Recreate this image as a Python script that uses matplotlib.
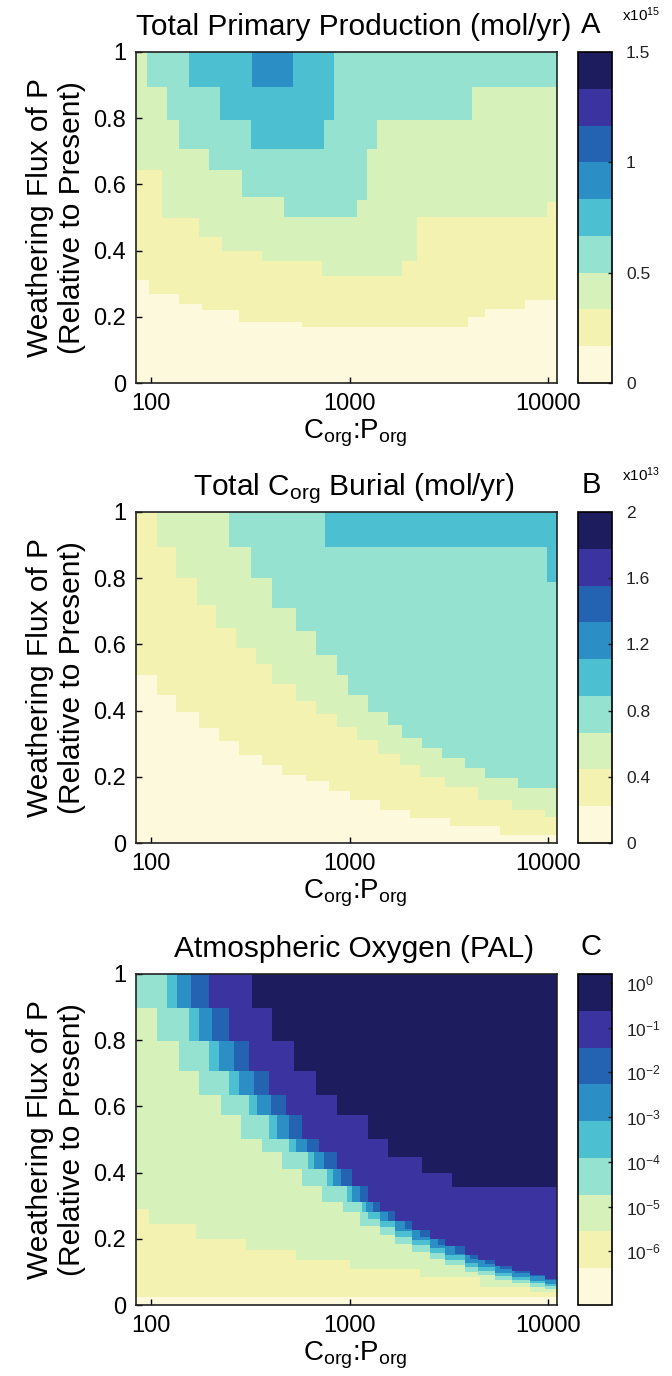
import numpy as np
import matplotlib
matplotlib.use("Agg")
import matplotlib.pyplot as plt
from matplotlib.colors import ListedColormap, Normalize, LogNorm
import matplotlib.cm as cm

plt.rcParams['font.family'] = ['Liberation Sans', 'DejaVu Sans']
plt.rcParams['mathtext.fontset'] = 'custom'
plt.rcParams['mathtext.rm'] = 'Liberation Sans'
plt.rcParams['mathtext.it'] = 'Liberation Sans:italic'

# 9 colour classes, low -> high
level_colors = ['#fdf9dc', '#f4f2b0', '#d6f2ba', '#95e2d0', '#4cbfd0',
                '#2b8ec4', '#2462b2', '#3a33a0', '#1c1c5e']

cp_lim = (84, 11100)
cp_ticks = [100, 1000, 10000]
wf_ticks = [0, 0.2, 0.4, 0.6, 0.8, 1]

# each list: (C:P where the step starts, weathering flux above which that level is reached)
# A - total primary production
pp_lvl1 = [(84, 0.31), (98, 0.27), (138, 0.24), (181, 0.22), (278, 0.185), (579, 0.17),
           (3945, 0.20), (4806, 0.225), (7653, 0.25)]
pp_lvl2 = [(84, 0.643), (114, 0.50), (175, 0.44), (228, 0.40), (364, 0.37), (730, 0.322),
           (1831, 0.37), (2180, 0.502), (9884, 0.547)]
pp_lvl3 = [(84, 1.0), (95.5, 0.895), (120, 0.795), (138.5, 0.708), (196, 0.643), (288, 0.563),
           (470, 0.502), (1085, 0.553), (1219, 0.708), (1369, 0.795), (4133, 0.895)]
pp_lvl4 = [(84, 1.0), (155.5, 0.895), (223, 0.795), (320, 0.708), (748, 0.795), (840, 1.0)]
pp_lvl5 = [(84, 1.0), (324, 0.895), (521, 1.0)]

# B - total Corg burial
cb_lvl1 = [(84, 0.507), (107, 0.447), (134, 0.397), (175, 0.347), (220, 0.307), (278, 0.266),
           (364, 0.236), (459, 0.206), (607, 0.186), (792, 0.156), (1000, 0.13), (1418, 0.10),
           (2009, 0.075), (3200, 0.05), (5723, 0.025)]
cb_lvl2 = [(84, 1.0), (107, 0.895), (134, 0.80), (171, 0.72), (213, 0.65), (269, 0.59),
           (339, 0.54), (409, 0.48), (540, 0.43), (681, 0.39), (860, 0.35), (1085, 0.31),
           (1385, 0.27), (1788, 0.235), (2258, 0.20), (3018, 0.17), (4432, 0.13),
           (6579, 0.10), (9656, 0.08)]
cb_lvl3 = [(84, 1.0), (248, 0.895), (320, 0.80), (409, 0.709), (540, 0.64), (681, 0.568),
           (860, 0.507), (977, 0.447), (1233, 0.397), (1556, 0.357), (1831, 0.316),
           (2310, 0.287), (2914, 0.256), (3808, 0.226), (4806, 0.196), (7057, 0.166)]
cb_lvl4 = [(84, 1.0), (756, 0.895), (9884, 0.79)]

# C - atmospheric oxygen
ox_lvl1 = [(84, 0.025)]
ox_lvl2 = [(84, 0.29), (98, 0.245), (169, 0.20), (302, 0.165), (540, 0.135), (1000, 0.11),
           (2258, 0.085), (4536, 0.055), (8126, 0.04)]
ox_lvl3 = [(84, 0.896), (107, 0.798), (138.5, 0.707), (175, 0.633), (226, 0.573), (285, 0.502),
           (364, 0.462), (459, 0.411), (579, 0.361), (730, 0.310), (922, 0.280), (1123, 0.24),
           (1418, 0.21), (1688, 0.185), (2057, 0.16), (2535, 0.14), (3018, 0.12),
           (3808, 0.10), (4432, 0.09), (5400, 0.075), (6579, 0.065), (8126, 0.055),
           (9656, 0.048)]
ox_lvl4 = [(84, 1.0), (120, 0.896), (155.5, 0.798), (196, 0.707), (248, 0.633), (313, 0.573),
           (395, 0.502), (498, 0.462), (621, 0.411), (774, 0.361), (966, 0.310), (1150, 0.280),
           (1233, 0.26), (1418, 0.235), (1688, 0.205), (2057, 0.18), (2535, 0.157),
           (3018, 0.137), (3808, 0.115), (4432, 0.103), (5400, 0.087), (6579, 0.076),
           (8126, 0.065), (9656, 0.056)]
ox_lvl5 = [(84, 1.0), (135, 0.896), (175, 0.798), (220.5, 0.707), (278, 0.633), (343, 0.573),
           (433, 0.502), (540, 0.462), (666, 0.411), (821, 0.361), (1024, 0.310), (1204, 0.280),
           (1418, 0.255), (1688, 0.225), (2057, 0.197), (2535, 0.172), (3018, 0.152),
           (3808, 0.128), (4432, 0.114), (5400, 0.097), (6579, 0.085), (8126, 0.073),
           (9656, 0.063)]
ox_lvl6 = [(84, 1.0), (159, 0.896), (203, 0.798), (263, 0.707), (331, 0.633), (404, 0.573),
           (498, 0.502), (614, 0.462), (748, 0.411), (911, 0.361), (1123, 0.310), (1307, 0.280),
           (1556, 0.255), (1896, 0.23), (2258, 0.205), (2782, 0.18), (3391, 0.155),
           (4037, 0.14), (4806, 0.125), (5723, 0.11), (6813, 0.098), (8126, 0.088),
           (9656, 0.075)]
ox_lvl7 = [(84, 1.0), (196, 0.896), (248, 0.798), (313, 0.707), (395, 0.633), (481, 0.573),
           (579, 0.502), (705, 0.462), (860, 0.411), (1024, 0.361), (1233, 0.310),
           (1418, 0.285), (1688, 0.255), (2057, 0.226), (2535, 0.20), (3018, 0.178),
           (3808, 0.152), (4432, 0.136), (5400, 0.117), (6579, 0.103), (8126, 0.09),
           (9656, 0.078)]
ox_lvl8 = [(84, 1.0), (324, 0.896), (409, 0.798), (528, 0.707), (681, 0.633), (860, 0.573),
           (1233, 0.502), (1556, 0.447), (2310, 0.40), (3275, 0.355)]

pp_ticks = [0, 0.5, 1, 1.5]
cb_ticks = [0, 0.4, 0.8, 1.2, 1.6, 2]
ox_ticks = [1e-6, 1e-5, 1e-4, 1e-3, 1e-2, 1e-1, 1e0]

cmap = ListedColormap(level_colors)

fig = plt.figure(figsize=(6.72, 13.76), dpi=100)
W, H = 672.0, 1376.0


def draw_panel(top_px, levels, title):
    ax = fig.add_axes([136 / W, 1 - (top_px + 331) / H, 421 / W, 331 / H])
    ax.fill_between(cp_lim, 0, 1, color=level_colors[0], lw=0)
    for k, bnd in enumerate(levels, start=1):
        xs = [p[0] for p in bnd] + [cp_lim[1]]
        ys = [p[1] for p in bnd]
        ys.append(ys[-1])
        ax.fill_between(xs, ys, 1, step='post', color=level_colors[k], lw=0)
    ax.set_xscale('log')
    ax.set_xlim(cp_lim)
    ax.set_ylim(0, 1)
    ax.set_xticks(cp_ticks)
    ax.set_xticklabels([str(t) for t in cp_ticks])
    ax.xaxis.set_minor_locator(matplotlib.ticker.NullLocator())
    ax.set_yticks(wf_ticks)
    ax.set_yticklabels(['0', '0.2', '0.4', '0.6', '0.8', '1'])
    ax.tick_params(direction='in', length=4, width=1, labelsize=17, pad=7)
    for s in ax.spines.values():
        s.set_linewidth(1.2)
        s.set_color('#222222')
    t = ax.set_title(title, fontsize=21.5, pad=12)
    t.set_x(0.518)
    ax.set_xlabel(r'C$_{\rm org}$:P$_{\rm org}$', fontsize=20, labelpad=2)
    ax.xaxis.label.set_x(0.52)
    ax.set_ylabel('Weathering Flux of P\n(Relative to Present)', fontsize=21.5,
                  linespacing=1.2)
    ax.yaxis.set_label_coords(-0.118, 0.5)
    return ax


def draw_cbar(top_px, norm, ticks, labels, letter, scale):
    cax = fig.add_axes([578 / W, 1 - (top_px + 331) / H, 34 / W, 331 / H])
    sm = cm.ScalarMappable(norm=norm, cmap=cmap)
    cb = fig.colorbar(sm, cax=cax, ticks=ticks)
    cb.ax.minorticks_off()
    cb.set_ticks(ticks)
    cb.set_ticklabels(labels)
    cb.ax.tick_params(direction='in', length=3, width=1, labelsize=12.5, pad=10,
                      colors='#222222')
    cb.outline.set_linewidth(1.2)
    fig.text(591 / W, 1 - (top_px - 27) / H, letter, fontsize=21, ha='center', va='center')
    if scale:
        fig.text(622 / W, 1 - (top_px - 37) / H, scale, fontsize=11, ha='left', va='center')


draw_panel(52, [pp_lvl1, pp_lvl2, pp_lvl3, pp_lvl4, pp_lvl5],
           'Total Primary Production (mol/yr)')
draw_cbar(52, Normalize(0, 1.5), pp_ticks, ['0', '0.5', '1', '1.5'], 'A', r'x10$^{15}$')

draw_panel(512, [cb_lvl1, cb_lvl2, cb_lvl3, cb_lvl4], r'Total C$_{\rm org}$ Burial (mol/yr)')
draw_cbar(512, Normalize(0, 2), cb_ticks, ['0', '0.4', '0.8', '1.2', '1.6', '2'], 'B',
          r'x10$^{13}$')

draw_panel(974, [ox_lvl1, ox_lvl2, ox_lvl3, ox_lvl4, ox_lvl5, ox_lvl6, ox_lvl7, ox_lvl8],
           'Atmospheric Oxygen (PAL)')
draw_cbar(974, LogNorm(10 ** -7.2, 10 ** 0.2), ox_ticks,
          [r'10$^{-6}$', r'10$^{-5}$', r'10$^{-4}$', r'10$^{-3}$', r'10$^{-2}$',
           r'10$^{-1}$', r'10$^{0}$'], 'C', None)

fig.savefig('out.png', dpi=100)
